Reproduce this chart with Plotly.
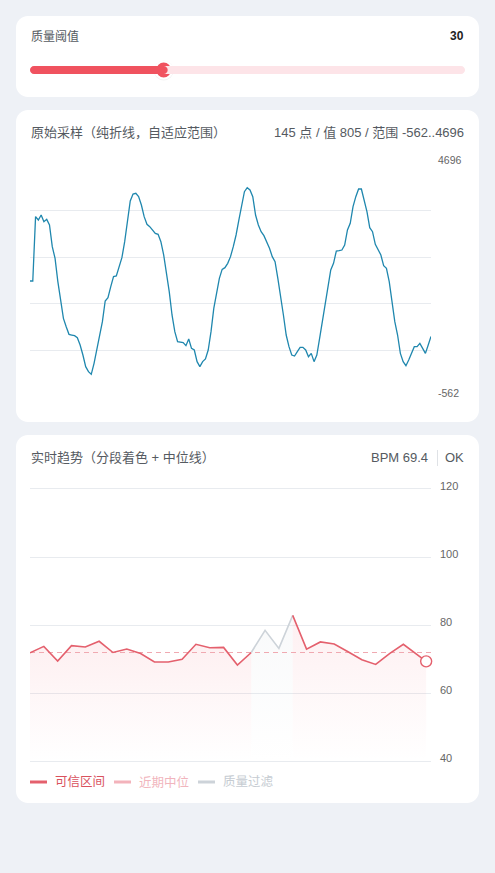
import plotly.graph_objects as go

W, H = 495, 873

# ---------------- data ----------------
threshold_value = 30
threshold_range = [0, 100]

raw_values = [
    2056, 2056, 3508, 3432, 3545, 3395, 3447, 3320, 2831, 2567,
    2041, 1589, 1213, 1025, 852, 837, 822, 777, 612, 386,
    123, 10, -50, 198, 499, 762, 1138, 1605, 1680, 1928,
    2154, 2169, 2379, 2582, 2943, 3357, 3861, 4019, 4034, 3959,
    3771, 3508, 3335, 3282, 3207, 3131, 3109, 2943, 2643, 2266,
    1815, 1289, 912, 687, 672, 664, 597, 747, 536, 499,
    236, 123, 236, 296, 499, 912, 1439, 1815, 2116, 2319,
    2357, 2454, 2605, 2831, 3094, 3432, 3771, 4072, 4162, 4109,
    3959, 3545, 3320, 3169, 3079, 2943, 2793, 2605, 2492, 2116,
    1740, 1289, 837, 574, 386, 363, 461, 559, 559, 499,
    348, 423, 236, 386, 762, 1138, 1552, 1890, 2304, 2454,
    2733, 2740, 2755, 2868, 3207, 3357, 3733, 3959, 4132, 4132,
    3906, 3620, 3259, 3169, 2883, 2755, 2643, 2402, 2342, 2041,
    1552, 1138, 837, 423, 236, 145, 273, 423, 574, 574,
    649, 536, 423, 612, 805,
]
raw_min, raw_max = -562, 4696

trend_t = list(range(28)) + [28.65]
trend_bpm = [
    71.9, 73.8, 69.5, 74.0, 73.6, 75.3, 72.0, 73.0, 71.7, 69.2,
    69.2, 70.0, 74.4, 73.4, 73.5, 68.3, 72.0, 78.5, 73.2, 82.9,
    73.0, 75.1, 74.5, 72.2, 69.9, 68.5, 71.7, 74.4, 69.4,
]
trend_ok = [True] * 17 + [False, False] + [True] * 10
trend_median = 72.0
trend_window = [0, 29]
trend_ticks = [40, 60, 80, 100, 120]
status_text = "OK"
legend_labels = ["可信区间", "近期中位", "质量过滤"]

# ---------------- styles ----------------
BG = "#eef1f6"
RED = "#e4606d"
RED_KNOB = "#f0525f"
PINK = "#f3b3bb"
GRAY = "#cdd3d9"
BLUE = "#1f87ae"
GRID = "#e8ebef"
TXT = "#555a61"
FONT = "Liberation Sans, Noto Sans CJK SC, sans-serif"


def px(x):
    return x / W


def py(y):
    return 1 - y / H


def rrect_paper(x0, y0, x1, y1, r):
    k = 0.5523 * r

    def P(x, y):
        return f"{px(x):.6f},{py(y):.6f}"
    d = (f"M{P(x0 + r, y0)} L{P(x1 - r, y0)} "
         f"C{P(x1 - r + k, y0)} {P(x1, y0 + r - k)} {P(x1, y0 + r)} "
         f"L{P(x1, y1 - r)} "
         f"C{P(x1, y1 - r + k)} {P(x1 - r + k, y1)} {P(x1 - r, y1)} "
         f"L{P(x0 + r, y1)} "
         f"C{P(x0 + r - k, y1)} {P(x0, y1 - r + k)} {P(x0, y1 - r)} "
         f"L{P(x0, y0 + r)} "
         f"C{P(x0, y0 + r - k)} {P(x0 + r - k, y0)} {P(x0 + r, y0)} Z")
    return d


fig = go.Figure()
shapes = []
annotations = []

# cards
for (y0, y1) in [(16, 97), (110, 422), (435, 803)]:
    shapes.append(dict(type="path", path=rrect_paper(16, y0, 479, y1, 12),
                       xref="paper", yref="paper", fillcolor="white",
                       line=dict(width=0), layer="below"))

# ---------------- card 1: slider ----------------
slider_px0, slider_px1 = 30, 465
inset = 8
span = threshold_range[1] - threshold_range[0]
unit_per_px = span / (slider_px1 - slider_px0 - 2 * inset)
s_lo = threshold_range[0] - inset * unit_per_px
s_hi = threshold_range[1] + inset * unit_per_px


def track_path(a, b, r_px=4):
    rx = r_px * unit_per_px
    ry = r_px
    k = 0.5523
    return (f"M{a + rx},{-ry} L{b - rx},{-ry} "
            f"C{b - rx + k * rx},{-ry} {b},{-k * ry} {b},0 "
            f"C{b},{k * ry} {b - rx + k * rx},{ry} {b - rx},{ry} "
            f"L{a + rx},{ry} "
            f"C{a + rx - k * rx},{ry} {a},{k * ry} {a},0 "
            f"C{a},{-k * ry} {a + rx - k * rx},{-ry} {a + rx},{-ry} Z")


shapes.append(dict(type="path", path=track_path(s_lo, s_hi), xref="x3", yref="y3",
                   fillcolor="#fde4e8", line=dict(width=0)))
shapes.append(dict(type="path", path=track_path(s_lo, threshold_value + 4 * unit_per_px),
                   xref="x3", yref="y3", fillcolor=RED_KNOB, line=dict(width=0)))

fig.add_trace(go.Scatter(x=[threshold_value], y=[-0.5], xaxis="x3", yaxis="y3", mode="markers",
                         marker=dict(size=20, color="rgba(0,0,0,0.05)"), cliponaxis=False,
                         hoverinfo="skip", showlegend=False))
fig.add_trace(go.Scatter(x=[threshold_value], y=[0], xaxis="x3", yaxis="y3", mode="markers",
                         marker=dict(size=17, color=RED_KNOB, line=dict(color="white", width=2.2)),
                         cliponaxis=False, hoverinfo="skip", showlegend=False))

annotations.append(dict(text="质量阈值", x=px(29), y=py(37), xref="paper", yref="paper",
                        xanchor="left", yanchor="middle", showarrow=False,
                        font=dict(size=12, color=TXT, family=FONT)))
annotations.append(dict(text=f"<b>{threshold_value}</b>", x=px(466), y=py(36), xref="paper", yref="paper",
                        xanchor="right", yanchor="middle", showarrow=False,
                        font=dict(size=12, color="#222", family=FONT)))

# ---------------- card 2: raw samples ----------------
n_raw = len(raw_values)
fig.add_trace(go.Scatter(x=list(range(n_raw)), y=raw_values, mode="lines",
                         line=dict(color=BLUE, width=1.3), hoverinfo="skip",
                         showlegend=False, xaxis="x", yaxis="y"))

annotations.append(dict(text="原始采样（纯折线，自适应范围）", x=px(29), y=py(132.5), xref="paper", yref="paper",
                        xanchor="left", yanchor="middle", showarrow=False,
                        font=dict(size=13, color=TXT, family=FONT)))
annotations.append(dict(text=f"{n_raw} 点 / 值 {raw_values[-1]} / 范围 {raw_min}..{raw_max}",
                        x=px(466), y=py(132.5), xref="paper", yref="paper",
                        xanchor="right", yanchor="middle", showarrow=False,
                        font=dict(size=13, color=TXT, family=FONT)))
for v in (raw_max, raw_min):
    annotations.append(dict(text=str(v), x=px(436), y=v, xref="paper", yref="y",
                            xanchor="left", yanchor="middle", yshift=4, showarrow=False,
                            font=dict(size=10.5, color="#666", family=FONT)))
raw_step = (raw_max - raw_min) / 5
raw_grid = [raw_min + k * raw_step for k in range(1, 5)]

# ---------------- card 3: trend ----------------
segments = []
start = 0
cur_ok = trend_ok[0] and trend_ok[1]
for i in range(1, len(trend_bpm)):
    seg_ok = trend_ok[i] and trend_ok[i - 1]
    if seg_ok != cur_ok:
        segments.append((start, i - 1, cur_ok))
        start = i - 1
        cur_ok = seg_ok
segments.append((start, len(trend_bpm) - 1, cur_ok))

ybase = trend_ticks[0]
for (a, b, ok) in segments:
    xs = trend_t[a:b + 1]
    ys = trend_bpm[a:b + 1]
    if ok:
        grad = [[0, "rgba(239,83,100,0.0)"], [1, "rgba(239,83,100,0.09)"]]
    else:
        grad = [[0, "rgba(190,198,206,0.0)"], [1, "rgba(190,198,206,0.10)"]]
    fig.add_trace(go.Scatter(x=xs + [xs[-1], xs[0]], y=ys + [ybase, ybase], mode="lines",
                             fill="toself", fillgradient=dict(type="vertical", colorscale=grad),
                             line=dict(width=0), hoverinfo="skip", showlegend=False,
                             xaxis="x2", yaxis="y2"))

fig.add_trace(go.Scatter(x=trend_window, y=[trend_median, trend_median], mode="lines",
                         line=dict(color="#f0a9b1", width=1.2, dash="5px,4px"),
                         hoverinfo="skip", showlegend=False, xaxis="x2", yaxis="y2"))

for (a, b, ok) in segments:
    fig.add_trace(go.Scatter(x=trend_t[a:b + 1], y=trend_bpm[a:b + 1], mode="lines",
                             line=dict(color=RED if ok else GRAY, width=1.6),
                             hoverinfo="skip", showlegend=False, xaxis="x2", yaxis="y2"))

fig.add_trace(go.Scatter(x=[trend_t[-1]], y=[trend_bpm[-1]], mode="markers",
                         marker=dict(size=11, color="white", line=dict(color=RED, width=1.4)),
                         cliponaxis=False, hoverinfo="skip", showlegend=False,
                         xaxis="x2", yaxis="y2"))

annotations.append(dict(text="实时趋势（分段着色 + 中位线）", x=px(29), y=py(457.5), xref="paper", yref="paper",
                        xanchor="left", yanchor="middle", showarrow=False,
                        font=dict(size=13, color=TXT, family=FONT)))
annotations.append(dict(text=f"BPM {trend_bpm[-1]}", x=px(430), y=py(457.5), xref="paper", yref="paper",
                        xanchor="right", yanchor="middle", showarrow=False,
                        font=dict(size=13, color=TXT, family=FONT)))
annotations.append(dict(text=status_text, x=px(466), y=py(457.5), xref="paper", yref="paper",
                        xanchor="right", yanchor="middle", showarrow=False,
                        font=dict(size=13, color=TXT, family=FONT)))
shapes.append(dict(type="line", x0=px(437.5), x1=px(437.5), y0=py(450), y1=py(466),
                   xref="paper", yref="paper", line=dict(color="#dfe2e6", width=1)))

# legend
leg_colors = [RED, PINK, GRAY]
leg_text_colors = ["#d9525e", "#f1b5bd", "#c6ccd2"]
leg_x = [30, 114, 198]
for lx, lab, lc, tc in zip(leg_x, legend_labels, leg_colors, leg_text_colors):
    shapes.append(dict(type="line", x0=px(lx), x1=px(lx + 17), y0=py(782), y1=py(782),
                       xref="paper", yref="paper", line=dict(color=lc, width=3)))
    annotations.append(dict(text=lab, x=px(lx + 23), y=py(782), xref="paper", yref="paper",
                            xanchor="left", yanchor="middle", showarrow=False,
                            font=dict(size=12.5, color=tc, family=FONT)))

# trend y-axis with a hair of padding so edge gridlines show
t_lo, t_hi = trend_ticks[0], trend_ticks[-1]
t_top_px, t_bot_px = 489, 761.5
ppu = (t_bot_px - t_top_px) / (t_hi - t_lo)
pad_u = 0.6

fig.update_layout(
    width=W, height=H, margin=dict(l=0, r=0, t=0, b=0, pad=0, autoexpand=False),
    paper_bgcolor=BG, plot_bgcolor="rgba(0,0,0,0)",
    showlegend=False, shapes=shapes, annotations=annotations,
    font=dict(family=FONT),
    xaxis=dict(domain=[px(30), px(431)], range=[0, n_raw - 1], visible=False, fixedrange=True,
               automargin=False),
    yaxis=dict(domain=[py(397), py(164)], range=[raw_min, raw_max], tickvals=raw_grid,
               showticklabels=False, showgrid=True, gridcolor=GRID, gridwidth=1,
               zeroline=False, showline=False, ticks="", fixedrange=True, automargin=False),
    xaxis2=dict(domain=[px(30), px(431)], range=trend_window, visible=False, anchor="y2",
                fixedrange=True, automargin=False),
    yaxis2=dict(domain=[py(t_bot_px + pad_u * ppu), py(t_top_px - pad_u * ppu)],
                range=[t_lo - pad_u, t_hi + pad_u], anchor="x2",
                tickvals=trend_ticks, side="right", showgrid=True, gridcolor=GRID, gridwidth=1,
                zeroline=False, showline=False, ticks="", ticklabelstandoff=8, ticklabelshift=-3,
                tickfont=dict(size=11, color="#666", family=FONT), fixedrange=True, automargin=False),
    xaxis3=dict(domain=[px(slider_px0), px(slider_px1)], range=[s_lo, s_hi], visible=False,
                anchor="y3", fixedrange=True, automargin=False),
    yaxis3=dict(domain=[py(80), py(60)], range=[-10, 10], visible=False, anchor="x3",
                fixedrange=True, automargin=False),
)

fig.write_html("out.html", config=dict(displayModeBar=False))
